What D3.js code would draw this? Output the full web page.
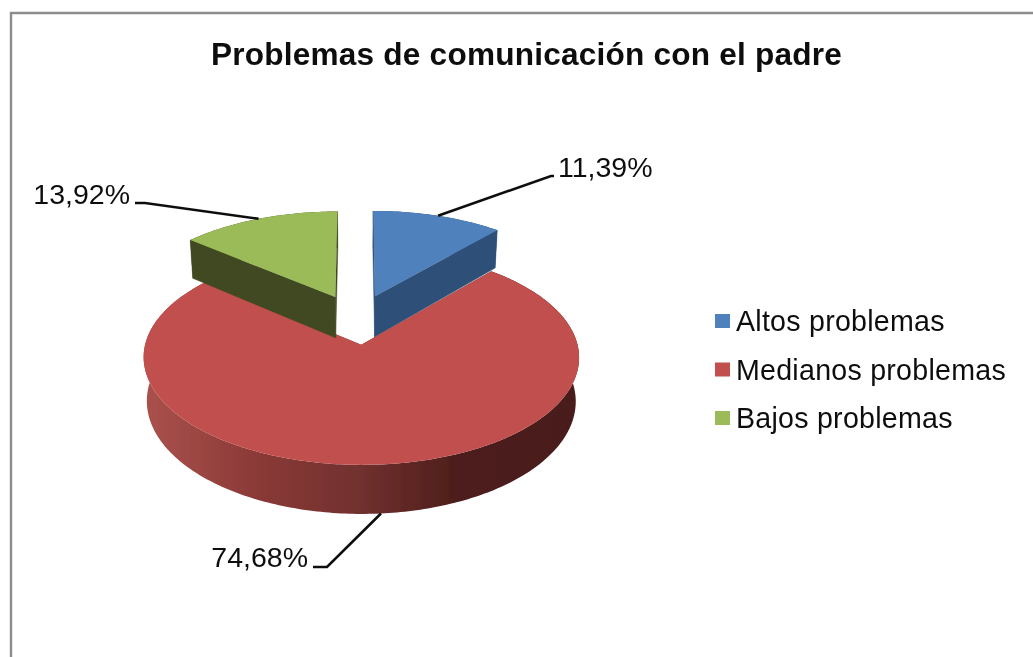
<!DOCTYPE html>
<html><head><meta charset="utf-8">
<script src="https://cdn.jsdelivr.net/npm/d3@7/dist/d3.min.js"></script>
<style>html,body{margin:0;padding:0;background:#fff;overflow:hidden}svg{display:block}text{font-family:"Liberation Sans",Arial,sans-serif;fill:#111}</style>
</head><body><svg id="c" width="1033" height="657"></svg>
<script>
const titleText = "Problemas de comunicación con el padre";
const categories = ["Altos problemas","Medianos problemas","Bajos problemas"];
const values = [11.39,74.68,13.92];
const valueLabels = ["11,39%","74,68%","13,92%"];
const topColors = ["#4f81bd","#c0504d","#9bbb59"];
const sideColors = ["#2f5077","url(#redSide)","#404a20"];

const root = d3.select("#c");
const W=1033,H=657;
const cx=357, cy=319, rx=210, ry=100, persp=0.115, explode=0.25, depth=42, shrink=0.985;

const defs=root.append("defs");
defs.append("filter").attr("id","soft").attr("x",0).attr("y",0).attr("width",1).attr("height",1).attr("filterUnits","objectBoundingBox")
  .append("feGaussianBlur").attr("stdDeviation",0.45);
const g=defs.append("linearGradient").attr("id","redSide").attr("gradientUnits","userSpaceOnUse").attr("x1",146).attr("x2",576).attr("y1",0).attr("y2",0);
[[0,"#aa514d"],[0.25,"#8b3a37"],[0.5,"#71302e"],[0.72,"#4e1e1c"],[1,"#4a1c1a"]].forEach(s=>g.append("stop").attr("offset",s[0]).attr("stop-color",s[1]));

const svg=root.append("g").attr("filter","url(#soft)");
svg.append("rect").attr("width",W).attr("height",H).attr("fill","#fff");

// chart frame: only top and left edges are visible in the crop
svg.append("path").attr("d",d3.line()([[11,H+4],[11,13],[W+4,13]])).attr("fill","none").attr("stroke","#8c8c8c").attr("stroke-width",2.4);

const pie=d3.pie().sort(null).value(d=>d)(values);
const fx=d3.scaleLinear().domain([-1,1]).range([-rx,rx]);
const fy=d3.scaleLinear().domain([-1,1]).range([-ry,ry]);

function disc(slice,r,t){
  const mid=(slice.startAngle+slice.endAngle)/2;
  return [Math.sin(mid)*explode+r*Math.sin(t), -Math.cos(mid)*explode-r*Math.cos(t)];
}
function proj(p,low){
  const d=1-persp*p[1];
  const x=fx(p[0])/d, y=fy(p[1])/d;
  return low ? [cx+x*shrink, cy+y+depth/d] : [cx+x, cy+y];
}
const line=d3.line();
function rimAngles(s){const n=Math.max(8,Math.round((s.endAngle-s.startAngle)*60));return d3.range(n+1).map(i=>s.startAngle+(s.endAngle-s.startAngle)*i/n);}

pie.forEach((s,i)=>{
  const ang=rimAngles(s);
  const top=ang.map(t=>proj(disc(s,1,t),false));
  const low=ang.map(t=>proj(disc(s,1,t),true));
  const c0=disc(s,0,0);
  const group=svg.append("g").attr("class","slice");
  [ang[0],ang[ang.length-1]].forEach(t=>{
    const q=[proj(c0,false),proj(disc(s,1,t),false),proj(disc(s,1,t),true),proj(c0,true)];
    group.append("path").attr("d",line(q)+"Z").attr("fill",i===1?"#6f302e":sideColors[i]).attr("stroke",i===1?"none":sideColors[i]).attr("stroke-width",0.5);
  });
  group.append("path").attr("d",line(top.concat(low.slice().reverse()))+"Z").attr("fill",sideColors[i]);
  group.append("path").attr("d",line([proj(c0,false)].concat(top))+"Z").attr("fill",topColors[i]);
});

// leaders + labels
const labelAnchors=[[558,167,"start"],[308,557,"end"],[130,194,"end"]];
const elbows=[[[551,176],[554,176]],[[327,567],[313,567]],[[145,203],[135,203]]];
pie.forEach((s,i)=>{
  const mid=(s.startAngle+s.endAngle)/2;
  const start=proj(disc(s,1,mid),i===1);
  svg.append("path").attr("d",line([start].concat(elbows[i]))).attr("fill","none").attr("stroke","#111").attr("stroke-width",2.6);
  svg.append("text").attr("x",labelAnchors[i][0]).attr("y",labelAnchors[i][1]).attr("dy","0.35em").attr("text-anchor",labelAnchors[i][2]).attr("font-size",28.5).text(valueLabels[i]);
});

// legend
const ly=d3.scalePoint().domain(categories).range([321,418]);
categories.forEach((c,i)=>{
  svg.append("rect").attr("x",715).attr("y",ly(c)-7).attr("width",15).attr("height",14).attr("fill",topColors[i]);
  svg.append("text").attr("x",736).attr("y",ly(c)).attr("dy","0.35em").attr("font-size",28.6).attr("letter-spacing",0.25).text(c);
});

svg.append("text").attr("x",526.5).attr("y",54).attr("dy","0.35em").attr("text-anchor","middle").attr("font-size",31.6).attr("letter-spacing",0.2).attr("font-weight","bold").text(titleText);
</script></body></html>
